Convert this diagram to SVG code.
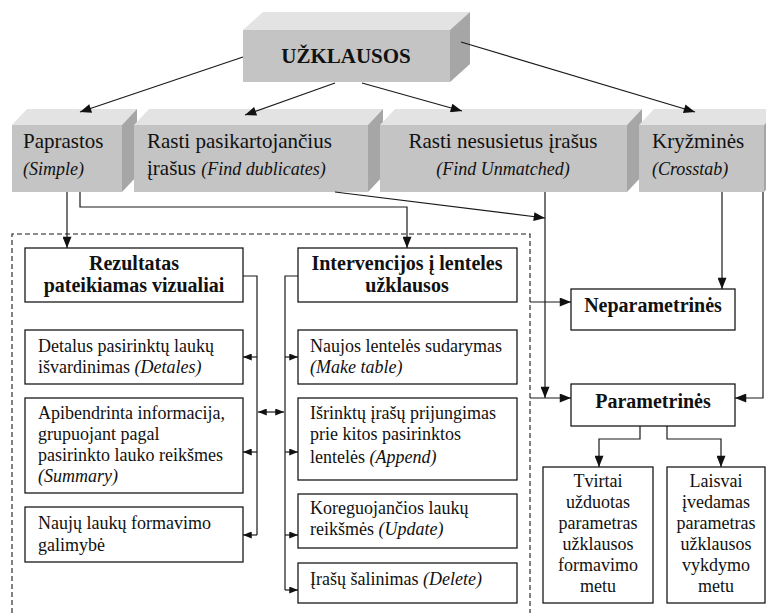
<svg xmlns="http://www.w3.org/2000/svg" width="766" height="613" viewBox="0 0 766 613">
  <style>
    .front { fill: #c4c4c4; }
    .top { fill: #e3e3e3; }
    .side { fill: #a6a6a6; }
    .box { fill: #ffffff; stroke: #1a1a1a; stroke-width: 1.3; }
    .t { font-family: "Liberation Serif", "DejaVu Serif", serif; fill: #111; }
    .big { font-size: 21px; }
    .mid { font-size: 18px; }
    .hd { font-size: 20px; font-weight: bold; }
    .it { font-style: italic; font-size: 18px; }
    .c { text-anchor: middle; }
    .ln { fill: none; stroke: #1a1a1a; stroke-width: 1.2; }
    .dash { fill: none; stroke: #1a1a1a; stroke-width: 1.1; stroke-dasharray: 5 3; }
  </style>
  <defs>
    <marker id="big" viewBox="0 0 10 8" refX="10" refY="4" markerWidth="14" markerHeight="9" orient="auto" markerUnits="userSpaceOnUse">
      <path d="M0,0 L10,4 L0,8 z" fill="#111"/>
    </marker>
    <marker id="mid" viewBox="0 0 10 8" refX="10" refY="4" markerWidth="12" markerHeight="9" orient="auto" markerUnits="userSpaceOnUse">
      <path d="M0,0 L10,4 L0,8 z" fill="#111"/>
    </marker>
    <marker id="sm" viewBox="0 0 10 8" refX="10" refY="4" markerWidth="9" markerHeight="7" orient="auto-start-reverse" markerUnits="userSpaceOnUse">
      <path d="M0,0 L10,4 L0,8 z" fill="#111"/>
    </marker>
  </defs>

  <!-- dashed frame around the visual / table query groups -->
  <path class="dash" d="M12,613 V234 H530 V613"/>

  <!-- root block -->
  <g id="uzklausos">
    <polygon class="top" points="243,30 263,12 470,12 450,30"/>
    <polygon class="side" points="450,30 470,12 470,64 450,82"/>
    <rect class="front" x="243" y="30" width="207" height="52"/>
    <text class="t c" x="346" y="63" font-size="21" font-weight="bold">UŽKLAUSOS</text>
  </g>

  <!-- query types (3D blocks) -->
  <g id="paprastos">
    <polygon class="top" points="12,125 27,109 137,109 122,125"/>
    <polygon class="side" points="122,125 137,109 137,176 122,192"/>
    <rect class="front" x="12" y="125" width="110" height="67"/>
    <text class="t big" x="23" y="148">Paprastos</text>
    <text class="t it" x="23" y="175">(Simple)</text>
  </g>
  <g id="rasti-pasikartojancius">
    <polygon class="top" points="134,125 149,109 383,109 368,125"/>
    <polygon class="side" points="368,125 383,109 383,176 368,192"/>
    <rect class="front" x="134" y="125" width="234" height="67"/>
    <text class="t big" x="147" y="148">Rasti pasikartojančius</text>
    <text class="t big" x="147" y="175">įrašus <tspan class="it">(Find dublicates)</tspan></text>
  </g>
  <g id="rasti-nesusietus">
    <polygon class="top" points="380,125 395,109 642,109 627,125"/>
    <polygon class="side" points="627,125 642,109 642,176 627,192"/>
    <rect class="front" x="380" y="125" width="247" height="67"/>
    <text class="t big c" x="503" y="148">Rasti nesusietus įrašus</text>
    <text class="t it c" x="503" y="175">(Find Unmatched)</text>
  </g>
  <g id="kryzmines">
    <polygon class="top" points="639,125 654,109 779,109 764,125"/>
    <polygon class="side" points="764,125 779,109 779,176 764,192"/>
    <rect class="front" x="639" y="125" width="125" height="67"/>
    <text class="t big" x="652" y="148">Kryžminės</text>
    <text class="t it" x="652" y="175">(Crosstab)</text>
  </g>

  <!-- left column -->
  <g id="rezultatas">
    <rect class="box" x="25" y="248" width="218" height="54"/>
    <text class="t hd c" x="134" y="270">Rezultatas</text>
    <text class="t hd c" x="134" y="292">pateikiamas vizualiai</text>
  </g>
  <g id="detales">
    <rect class="box" x="25" y="330" width="218" height="54"/>
    <text class="t mid" x="38" y="352">Detalus pasirinktų laukų</text>
    <text class="t mid" x="38" y="373">išvardinimas <tspan class="it">(Detales)</tspan></text>
  </g>
  <g id="summary">
    <rect class="box" x="25" y="398" width="218" height="95"/>
    <text class="t mid" x="38" y="419">Apibendrinta informacija,</text>
    <text class="t mid" x="38" y="440">grupuojant pagal</text>
    <text class="t mid" x="38" y="461">pasirinkto lauko reikšmes</text>
    <text class="t it" x="38" y="482">(Summary)</text>
  </g>
  <g id="nauji-laukai">
    <rect class="box" x="25" y="507" width="218" height="55"/>
    <text class="t mid" x="38" y="529">Naujų laukų formavimo</text>
    <text class="t mid" x="38" y="551">galimybė</text>
  </g>

  <!-- middle column -->
  <g id="intervencijos">
    <rect class="box" x="298" y="248" width="219" height="54"/>
    <text class="t hd c" x="407" y="270">Intervencijos į lenteles</text>
    <text class="t hd c" x="407" y="292">užklausos</text>
  </g>
  <g id="make-table">
    <rect class="box" x="298" y="330" width="219" height="54"/>
    <text class="t mid" x="310" y="352">Naujos lentelės sudarymas</text>
    <text class="t it" x="310" y="373">(Make table)</text>
  </g>
  <g id="append">
    <rect class="box" x="298" y="398" width="219" height="82"/>
    <text class="t mid" x="310" y="419">Išrinktų įrašų prijungimas</text>
    <text class="t mid" x="310" y="440">prie kitos pasirinktos</text>
    <text class="t mid" x="310" y="463">lentelės <tspan class="it">(Append)</tspan></text>
  </g>
  <g id="update">
    <rect class="box" x="298" y="494" width="219" height="54"/>
    <text class="t mid" x="310" y="514">Koreguojančios laukų</text>
    <text class="t mid" x="310" y="535">reikšmės <tspan class="it">(Update)</tspan></text>
  </g>
  <g id="delete">
    <rect class="box" x="298" y="563" width="219" height="40"/>
    <text class="t mid" x="310" y="585">Įrašų šalinimas <tspan class="it">(Delete)</tspan></text>
  </g>

  <!-- right column -->
  <g id="neparametrines">
    <rect class="box" x="571" y="289" width="164" height="41"/>
    <text class="t hd c" x="653" y="312">Neparametrinės</text>
  </g>
  <g id="parametrines">
    <rect class="box" x="571" y="384" width="164" height="42"/>
    <text class="t hd c" x="653" y="408">Parametrinės</text>
  </g>
  <g id="tvirtai">
    <rect class="box" x="543" y="467" width="110" height="136"/>
    <text class="t mid c" x="598" y="487">Tvirtai</text>
    <text class="t mid c" x="598" y="508">užduotas</text>
    <text class="t mid c" x="598" y="529">parametras</text>
    <text class="t mid c" x="598" y="550">užklausos</text>
    <text class="t mid c" x="598" y="571">formavimo</text>
    <text class="t mid c" x="598" y="592">metu</text>
  </g>
  <g id="laisvai">
    <rect class="box" x="667" y="467" width="98" height="136"/>
    <text class="t mid c" x="716" y="487">Laisvai</text>
    <text class="t mid c" x="716" y="508">įvedamas</text>
    <text class="t mid c" x="716" y="529">parametras</text>
    <text class="t mid c" x="716" y="550">užklausos</text>
    <text class="t mid c" x="716" y="571">vykdymo</text>
    <text class="t mid c" x="716" y="592">metu</text>
  </g>

  <!-- connectors -->
  <g id="connectors">
    <path class="ln" d="M243,57 L80,112" marker-end="url(#big)"/>
    <path class="ln" d="M335,83 L245,115" marker-end="url(#big)"/>
    <path class="ln" d="M362,83 L462,111" marker-end="url(#big)"/>
    <path class="ln" d="M461,42 L695,112" marker-end="url(#big)"/>

    <path class="ln" d="M67,192 V248" marker-end="url(#mid)"/>
    <path class="ln" d="M80,192 V207 H407 V248" marker-end="url(#mid)"/>
    <path class="ln" d="M335,192 L545,218" marker-end="url(#mid)"/>
    <path class="ln" d="M545,192 V398" marker-end="url(#mid)"/>
    <path class="ln" d="M530,302 H571" marker-end="url(#mid)"/>
    <path class="ln" d="M530,398 H571" marker-end="url(#mid)"/>
    <path class="ln" d="M722,192 V289" marker-end="url(#mid)"/>
    <path class="ln" d="M763,192 V398 H735" marker-end="url(#mid)"/>
    <path class="ln" d="M640,426 V439 H599 V467" marker-end="url(#mid)"/>
    <path class="ln" d="M667,426 V439 H721 V467" marker-end="url(#mid)"/>

    <path class="ln" d="M243,276 H257 V535"/>
    <path class="ln" d="M257,357 H243" marker-end="url(#sm)"/>
    <path class="ln" d="M257,452 H243" marker-end="url(#sm)"/>
    <path class="ln" d="M257,535 H243" marker-end="url(#sm)"/>

    <path class="ln" d="M298,276 H285 V590"/>
    <path class="ln" d="M285,357 H298" marker-end="url(#sm)"/>
    <path class="ln" d="M285,452 H298" marker-end="url(#sm)"/>
    <path class="ln" d="M285,535 H298" marker-end="url(#sm)"/>
    <path class="ln" d="M285,590 H298" marker-end="url(#sm)"/>

    <path class="ln" d="M258,412 H284" marker-start="url(#sm)" marker-end="url(#sm)"/>
  </g>
</svg>
